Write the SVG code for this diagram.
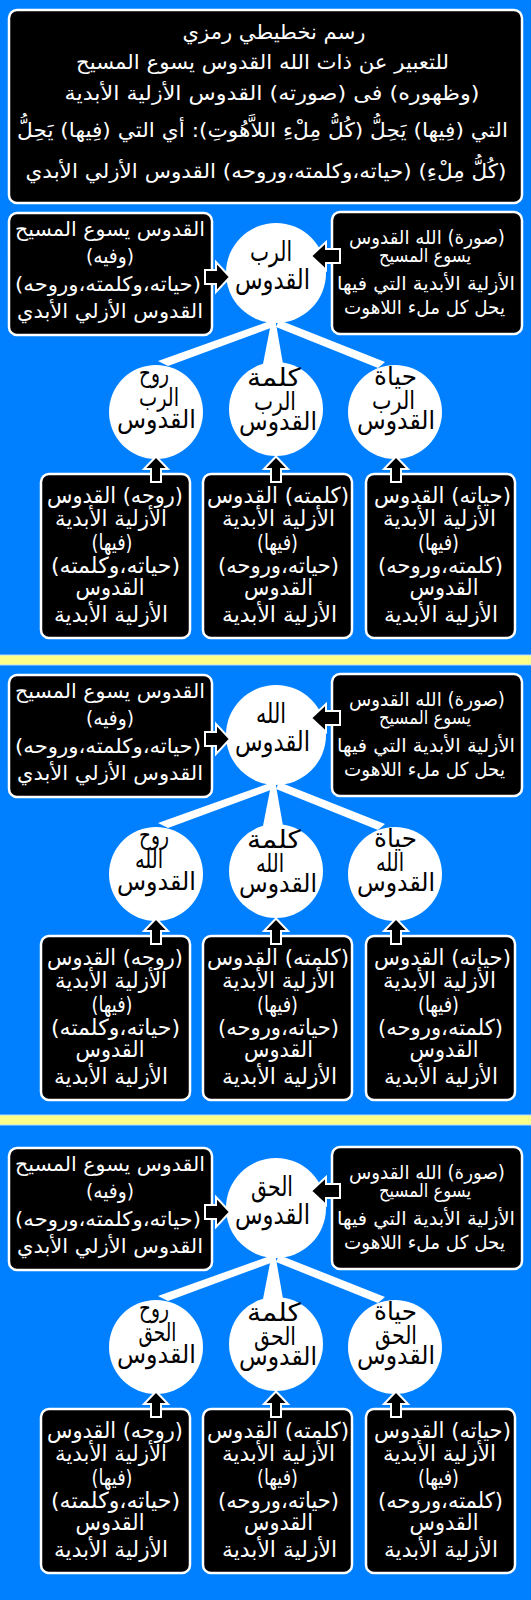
<svg xmlns="http://www.w3.org/2000/svg" width="531" height="1600" viewBox="0 0 531 1600">
<style>
.bg{fill:#0080ff}
.band{fill:#ffff88;stroke:#b8dcff;stroke-width:1}
.box{fill:#000;stroke:#fff;stroke-width:2.5}
.circ{fill:#fff}
.tail{fill:#fff}
.arr{fill:#000;stroke:#fff;stroke-width:2;stroke-linejoin:miter}
text{font-family:"DejaVu Sans","Noto Sans",sans-serif;text-anchor:middle;direction:rtl}
.tt{fill:#fff;font-size:20px}
.lt{fill:#fff;font-size:20px}
.rt{fill:#fff;font-size:19px}
.ct{fill:#000;font-size:27px}
.kt{fill:#000;font-size:25px}
.bt{fill:#fff;font-size:22px}
</style>
<rect class="bg" x="0" y="0" width="531" height="1600"/>
<rect class="band" x="-1" y="655" width="533" height="10"/>
<rect class="band" x="-1" y="1115" width="533" height="10"/>

<g id="title">
<rect class="box" x="9" y="10" width="513" height="193" rx="8"/>
<text class="tt" x="274" y="39" textLength="183" lengthAdjust="spacingAndGlyphs">رسم نخطيطي رمزي</text>
<text class="tt" x="262.5" y="69" textLength="373" lengthAdjust="spacingAndGlyphs">للتعبير عن ذات الله القدوس يسوع المسيح</text>
<text class="tt" x="272" y="100" textLength="415" lengthAdjust="spacingAndGlyphs">(وظهوره) فى (صورته) القدوس الأزلية الأبدية</text>
<text class="tt" x="262.5" y="137" textLength="491" lengthAdjust="spacingAndGlyphs">التي (فِيها) يَحِلُّ (كُلُّ مِلْءِ اللاَّهُوتِ): أي التي (فِيها) يَحِلُّ</text>
<text class="tt" x="266" y="178" textLength="481" lengthAdjust="spacingAndGlyphs">(كُلُّ مِلْءِ) (حياته،وكلمته،وروحه) القدوس الأزلي الأبدي</text>
</g>

<g id="s1">
<g id="s1-left"><rect class="box" x="9" y="213" width="203" height="122" rx="8"/>
<text class="lt" x="110" y="236" textLength="190" lengthAdjust="spacingAndGlyphs">القدوس يسوع المسيح</text><text class="lt" x="110" y="263" textLength="48" lengthAdjust="spacingAndGlyphs">(وفيه)</text><text class="lt" x="108" y="291" textLength="186" lengthAdjust="spacingAndGlyphs">(حياته،وكلمته،وروحه)</text><text class="lt" x="110" y="318" textLength="186" lengthAdjust="spacingAndGlyphs">القدوس الأزلي الأبدي</text></g>
<g id="s1-right"><rect class="box" x="332" y="212" width="190" height="122" rx="8"/>
<text class="rt" x="427" y="244" textLength="156" lengthAdjust="spacingAndGlyphs">(صورة) الله القدوس</text><text class="rt" x="425" y="262" textLength="92" lengthAdjust="spacingAndGlyphs">يسوع المسيح</text><text class="rt" x="426" y="290" textLength="178" lengthAdjust="spacingAndGlyphs">الأزلية الأبدية التي فيها</text><text class="rt" x="424.5" y="314" textLength="161" lengthAdjust="spacingAndGlyphs">يحل كل ملء اللاهوت</text></g>
<g id="s1-center"><circle class="circ" cx="276" cy="273" r="50"/>
<text class="ct" x="271" y="261" textLength="42" lengthAdjust="spacingAndGlyphs">الرب</text><text class="ct" x="272.5" y="289" textLength="75" lengthAdjust="spacingAndGlyphs">القدوس</text></g>
<g id="s1-c1"><circle class="circ" cx="156" cy="412" r="47"/>
<text class="kt" x="154" y="382" textLength="30" lengthAdjust="spacingAndGlyphs">روح</text><text class="kt" x="159" y="406" textLength="40" lengthAdjust="spacingAndGlyphs">الرب</text><text class="kt" x="156.5" y="428" textLength="79" lengthAdjust="spacingAndGlyphs">القدوس</text></g>
<g id="s1-c2"><circle class="circ" cx="276" cy="409" r="47"/>
<text class="kt" x="274" y="386" textLength="54" lengthAdjust="spacingAndGlyphs">كلمة</text><text class="kt" x="275" y="410" textLength="42" lengthAdjust="spacingAndGlyphs">الرب</text><text class="kt" x="278" y="430" textLength="78" lengthAdjust="spacingAndGlyphs">القدوس</text></g>
<g id="s1-c3"><circle class="circ" cx="395" cy="412" r="47"/>
<text class="kt" x="395.5" y="385" textLength="43" lengthAdjust="spacingAndGlyphs">حياة</text><text class="kt" x="393.5" y="409" textLength="43" lengthAdjust="spacingAndGlyphs">الرب</text><text class="kt" x="396" y="429" textLength="78" lengthAdjust="spacingAndGlyphs">القدوس</text></g>
<g id="s1-b1"><rect class="box" x="41" y="474" width="149" height="164" rx="8"/>
<text class="bt" x="115" y="503" textLength="136" lengthAdjust="spacingAndGlyphs">(روحه) القدوس</text><text class="bt" x="111" y="526" textLength="112" lengthAdjust="spacingAndGlyphs">الأزلية الأبدية</text><text class="bt" x="112" y="550" textLength="41" lengthAdjust="spacingAndGlyphs">(فيها)</text><text class="bt" x="115.5" y="573" textLength="129" lengthAdjust="spacingAndGlyphs">(حياته،وكلمته)</text><text class="bt" x="110" y="595" textLength="69" lengthAdjust="spacingAndGlyphs">القدوس</text><text class="bt" x="111" y="622" textLength="114" lengthAdjust="spacingAndGlyphs">الأزلية الأبدية</text></g>
<g id="s1-b2"><rect class="box" x="203" y="474" width="149" height="164" rx="8"/>
<text class="bt" x="278" y="503" textLength="142" lengthAdjust="spacingAndGlyphs">(كلمته) القدوس</text><text class="bt" x="278.5" y="526" textLength="113" lengthAdjust="spacingAndGlyphs">الأزلية الأبدية</text><text class="bt" x="277.5" y="550" textLength="41" lengthAdjust="spacingAndGlyphs">(فيها)</text><text class="bt" x="278.5" y="573" textLength="121" lengthAdjust="spacingAndGlyphs">(حياته،وروحه)</text><text class="bt" x="278.5" y="595" textLength="69" lengthAdjust="spacingAndGlyphs">القدوس</text><text class="bt" x="279.5" y="622" textLength="115" lengthAdjust="spacingAndGlyphs">الأزلية الأبدية</text></g>
<g id="s1-b3"><rect class="box" x="366" y="474" width="149" height="164" rx="8"/>
<text class="bt" x="442.5" y="503" textLength="137" lengthAdjust="spacingAndGlyphs">(حياته) القدوس</text><text class="bt" x="439.5" y="526" textLength="113" lengthAdjust="spacingAndGlyphs">الأزلية الأبدية</text><text class="bt" x="438.5" y="550" textLength="41" lengthAdjust="spacingAndGlyphs">(فيها)</text><text class="bt" x="440.5" y="573" textLength="125" lengthAdjust="spacingAndGlyphs">(كلمته،وروحه)</text><text class="bt" x="444" y="595" textLength="69" lengthAdjust="spacingAndGlyphs">القدوس</text><text class="bt" x="441" y="622" textLength="114" lengthAdjust="spacingAndGlyphs">الأزلية الأبدية</text></g>
</g>

<g id="s2" transform="translate(0,462)">
<g id="s2-left"><rect class="box" x="9" y="213" width="203" height="122" rx="8"/>
<text class="lt" x="110" y="236" textLength="190" lengthAdjust="spacingAndGlyphs">القدوس يسوع المسيح</text><text class="lt" x="110" y="263" textLength="48" lengthAdjust="spacingAndGlyphs">(وفيه)</text><text class="lt" x="108" y="291" textLength="186" lengthAdjust="spacingAndGlyphs">(حياته،وكلمته،وروحه)</text><text class="lt" x="110" y="318" textLength="186" lengthAdjust="spacingAndGlyphs">القدوس الأزلي الأبدي</text></g>
<g id="s2-right"><rect class="box" x="332" y="212" width="190" height="122" rx="8"/>
<text class="rt" x="427" y="244" textLength="156" lengthAdjust="spacingAndGlyphs">(صورة) الله القدوس</text><text class="rt" x="425" y="262" textLength="92" lengthAdjust="spacingAndGlyphs">يسوع المسيح</text><text class="rt" x="426" y="290" textLength="178" lengthAdjust="spacingAndGlyphs">الأزلية الأبدية التي فيها</text><text class="rt" x="424.5" y="314" textLength="161" lengthAdjust="spacingAndGlyphs">يحل كل ملء اللاهوت</text></g>
<g id="s2-center"><circle class="circ" cx="276" cy="273" r="50"/>
<text class="ct" x="271" y="261" textLength="30" lengthAdjust="spacingAndGlyphs">الله</text><text class="ct" x="272.5" y="289" textLength="75" lengthAdjust="spacingAndGlyphs">القدوس</text></g>
<g id="s2-c1"><circle class="circ" cx="156" cy="412" r="47"/>
<text class="kt" x="154" y="382" textLength="30" lengthAdjust="spacingAndGlyphs">روح</text><text class="kt" x="149" y="406" textLength="28" lengthAdjust="spacingAndGlyphs">الله</text><text class="kt" x="156.5" y="428" textLength="79" lengthAdjust="spacingAndGlyphs">القدوس</text></g>
<g id="s2-c2"><circle class="circ" cx="276" cy="409" r="47"/>
<text class="kt" x="274" y="386" textLength="54" lengthAdjust="spacingAndGlyphs">كلمة</text><text class="kt" x="270" y="410" textLength="28" lengthAdjust="spacingAndGlyphs">الله</text><text class="kt" x="278" y="430" textLength="78" lengthAdjust="spacingAndGlyphs">القدوس</text></g>
<g id="s2-c3"><circle class="circ" cx="395" cy="412" r="47"/>
<text class="kt" x="395.5" y="385" textLength="43" lengthAdjust="spacingAndGlyphs">حياة</text><text class="kt" x="390" y="409" textLength="28" lengthAdjust="spacingAndGlyphs">الله</text><text class="kt" x="396" y="429" textLength="78" lengthAdjust="spacingAndGlyphs">القدوس</text></g>
<g id="s2-b1"><rect class="box" x="41" y="474" width="149" height="164" rx="8"/>
<text class="bt" x="115" y="503" textLength="136" lengthAdjust="spacingAndGlyphs">(روحه) القدوس</text><text class="bt" x="111" y="526" textLength="112" lengthAdjust="spacingAndGlyphs">الأزلية الأبدية</text><text class="bt" x="112" y="550" textLength="41" lengthAdjust="spacingAndGlyphs">(فيها)</text><text class="bt" x="115.5" y="573" textLength="129" lengthAdjust="spacingAndGlyphs">(حياته،وكلمته)</text><text class="bt" x="110" y="595" textLength="69" lengthAdjust="spacingAndGlyphs">القدوس</text><text class="bt" x="111" y="622" textLength="114" lengthAdjust="spacingAndGlyphs">الأزلية الأبدية</text></g>
<g id="s2-b2"><rect class="box" x="203" y="474" width="149" height="164" rx="8"/>
<text class="bt" x="278" y="503" textLength="142" lengthAdjust="spacingAndGlyphs">(كلمته) القدوس</text><text class="bt" x="278.5" y="526" textLength="113" lengthAdjust="spacingAndGlyphs">الأزلية الأبدية</text><text class="bt" x="277.5" y="550" textLength="41" lengthAdjust="spacingAndGlyphs">(فيها)</text><text class="bt" x="278.5" y="573" textLength="121" lengthAdjust="spacingAndGlyphs">(حياته،وروحه)</text><text class="bt" x="278.5" y="595" textLength="69" lengthAdjust="spacingAndGlyphs">القدوس</text><text class="bt" x="279.5" y="622" textLength="115" lengthAdjust="spacingAndGlyphs">الأزلية الأبدية</text></g>
<g id="s2-b3"><rect class="box" x="366" y="474" width="149" height="164" rx="8"/>
<text class="bt" x="442.5" y="503" textLength="137" lengthAdjust="spacingAndGlyphs">(حياته) القدوس</text><text class="bt" x="439.5" y="526" textLength="113" lengthAdjust="spacingAndGlyphs">الأزلية الأبدية</text><text class="bt" x="438.5" y="550" textLength="41" lengthAdjust="spacingAndGlyphs">(فيها)</text><text class="bt" x="440.5" y="573" textLength="125" lengthAdjust="spacingAndGlyphs">(كلمته،وروحه)</text><text class="bt" x="444" y="595" textLength="69" lengthAdjust="spacingAndGlyphs">القدوس</text><text class="bt" x="441" y="622" textLength="114" lengthAdjust="spacingAndGlyphs">الأزلية الأبدية</text></g>
</g>

<g id="s3" transform="translate(0,935)">
<g id="s3-left"><rect class="box" x="9" y="213" width="203" height="122" rx="8"/>
<text class="lt" x="110" y="236" textLength="190" lengthAdjust="spacingAndGlyphs">القدوس يسوع المسيح</text><text class="lt" x="110" y="263" textLength="48" lengthAdjust="spacingAndGlyphs">(وفيه)</text><text class="lt" x="108" y="291" textLength="186" lengthAdjust="spacingAndGlyphs">(حياته،وكلمته،وروحه)</text><text class="lt" x="110" y="318" textLength="186" lengthAdjust="spacingAndGlyphs">القدوس الأزلي الأبدي</text></g>
<g id="s3-right"><rect class="box" x="332" y="212" width="190" height="122" rx="8"/>
<text class="rt" x="427" y="244" textLength="156" lengthAdjust="spacingAndGlyphs">(صورة) الله القدوس</text><text class="rt" x="425" y="262" textLength="92" lengthAdjust="spacingAndGlyphs">يسوع المسيح</text><text class="rt" x="426" y="290" textLength="178" lengthAdjust="spacingAndGlyphs">الأزلية الأبدية التي فيها</text><text class="rt" x="424.5" y="314" textLength="161" lengthAdjust="spacingAndGlyphs">يحل كل ملء اللاهوت</text></g>
<g id="s3-center"><circle class="circ" cx="276" cy="273" r="50"/>
<text class="ct" x="272" y="261" textLength="42" lengthAdjust="spacingAndGlyphs">الحق</text><text class="ct" x="272.5" y="289" textLength="75" lengthAdjust="spacingAndGlyphs">القدوس</text></g>
<g id="s3-c1"><circle class="circ" cx="156" cy="412" r="47"/>
<text class="kt" x="154" y="382" textLength="30" lengthAdjust="spacingAndGlyphs">روح</text><text class="kt" x="157.5" y="406" textLength="38" lengthAdjust="spacingAndGlyphs">الحق</text><text class="kt" x="156.5" y="428" textLength="79" lengthAdjust="spacingAndGlyphs">القدوس</text></g>
<g id="s3-c2"><circle class="circ" cx="276" cy="409" r="47"/>
<text class="kt" x="274" y="386" textLength="54" lengthAdjust="spacingAndGlyphs">كلمة</text><text class="kt" x="275" y="410" textLength="42" lengthAdjust="spacingAndGlyphs">الحق</text><text class="kt" x="278" y="430" textLength="78" lengthAdjust="spacingAndGlyphs">القدوس</text></g>
<g id="s3-c3"><circle class="circ" cx="395" cy="412" r="47"/>
<text class="kt" x="395.5" y="385" textLength="43" lengthAdjust="spacingAndGlyphs">حياة</text><text class="kt" x="396" y="409" textLength="42" lengthAdjust="spacingAndGlyphs">الحق</text><text class="kt" x="396" y="429" textLength="78" lengthAdjust="spacingAndGlyphs">القدوس</text></g>
<g id="s3-b1"><rect class="box" x="41" y="474" width="149" height="164" rx="8"/>
<text class="bt" x="115" y="503" textLength="136" lengthAdjust="spacingAndGlyphs">(روحه) القدوس</text><text class="bt" x="111" y="526" textLength="112" lengthAdjust="spacingAndGlyphs">الأزلية الأبدية</text><text class="bt" x="112" y="550" textLength="41" lengthAdjust="spacingAndGlyphs">(فيها)</text><text class="bt" x="115.5" y="573" textLength="129" lengthAdjust="spacingAndGlyphs">(حياته،وكلمته)</text><text class="bt" x="110" y="595" textLength="69" lengthAdjust="spacingAndGlyphs">القدوس</text><text class="bt" x="111" y="622" textLength="114" lengthAdjust="spacingAndGlyphs">الأزلية الأبدية</text></g>
<g id="s3-b2"><rect class="box" x="203" y="474" width="149" height="164" rx="8"/>
<text class="bt" x="278" y="503" textLength="142" lengthAdjust="spacingAndGlyphs">(كلمته) القدوس</text><text class="bt" x="278.5" y="526" textLength="113" lengthAdjust="spacingAndGlyphs">الأزلية الأبدية</text><text class="bt" x="277.5" y="550" textLength="41" lengthAdjust="spacingAndGlyphs">(فيها)</text><text class="bt" x="278.5" y="573" textLength="121" lengthAdjust="spacingAndGlyphs">(حياته،وروحه)</text><text class="bt" x="278.5" y="595" textLength="69" lengthAdjust="spacingAndGlyphs">القدوس</text><text class="bt" x="279.5" y="622" textLength="115" lengthAdjust="spacingAndGlyphs">الأزلية الأبدية</text></g>
<g id="s3-b3"><rect class="box" x="366" y="474" width="149" height="164" rx="8"/>
<text class="bt" x="442.5" y="503" textLength="137" lengthAdjust="spacingAndGlyphs">(حياته) القدوس</text><text class="bt" x="439.5" y="526" textLength="113" lengthAdjust="spacingAndGlyphs">الأزلية الأبدية</text><text class="bt" x="438.5" y="550" textLength="41" lengthAdjust="spacingAndGlyphs">(فيها)</text><text class="bt" x="440.5" y="573" textLength="125" lengthAdjust="spacingAndGlyphs">(كلمته،وروحه)</text><text class="bt" x="444" y="595" textLength="69" lengthAdjust="spacingAndGlyphs">القدوس</text><text class="bt" x="441" y="622" textLength="114" lengthAdjust="spacingAndGlyphs">الأزلية الأبدية</text></g>
</g>

<g id="connectors">
<g id="conn-s1">
<polygon class="tail" points="270,321 158,361 168,366 276,326"/>
<polygon class="tail" points="279,320 385,362 378,368 276,327"/>
<polygon class="tail" points="272,318 275,318 283,364 263,364"/>
<polygon class="arr" points="205,270 216,270 216,262 230,277 216,292 216,284 205,284"/>
<polygon class="arr" points="340,249 326,249 326,242 311,256 326,270 326,263 340,263"/>
<polygon class="arr" points="151,482 151,469 144,469 156,456.5 168,469 161,469 161,482"/>
<polygon class="arr" points="271,482 271,469 264,469 276,456.5 288,469 281,469 281,482"/>
<polygon class="arr" points="391,482 391,469 384,469 396,456.5 408,469 401,469 401,482"/>
</g>
<g id="conn-s2" transform="translate(0,462)">
<polygon class="tail" points="270,321 158,361 168,366 276,326"/>
<polygon class="tail" points="279,320 385,362 378,368 276,327"/>
<polygon class="tail" points="272,318 275,318 283,364 263,364"/>
<polygon class="arr" points="205,270 216,270 216,262 230,277 216,292 216,284 205,284"/>
<polygon class="arr" points="340,249 326,249 326,242 311,256 326,270 326,263 340,263"/>
<polygon class="arr" points="151,482 151,469 144,469 156,456.5 168,469 161,469 161,482"/>
<polygon class="arr" points="271,482 271,469 264,469 276,456.5 288,469 281,469 281,482"/>
<polygon class="arr" points="391,482 391,469 384,469 396,456.5 408,469 401,469 401,482"/>
</g>
<g id="conn-s3" transform="translate(0,935)">
<polygon class="tail" points="270,321 158,361 168,366 276,326"/>
<polygon class="tail" points="279,320 385,362 378,368 276,327"/>
<polygon class="tail" points="272,318 275,318 283,364 263,364"/>
<polygon class="arr" points="205,270 216,270 216,262 230,277 216,292 216,284 205,284"/>
<polygon class="arr" points="340,249 326,249 326,242 311,256 326,270 326,263 340,263"/>
<polygon class="arr" points="151,482 151,469 144,469 156,456.5 168,469 161,469 161,482"/>
<polygon class="arr" points="271,482 271,469 264,469 276,456.5 288,469 281,469 281,482"/>
<polygon class="arr" points="391,482 391,469 384,469 396,456.5 408,469 401,469 401,482"/>
</g>
</g>
</svg>
